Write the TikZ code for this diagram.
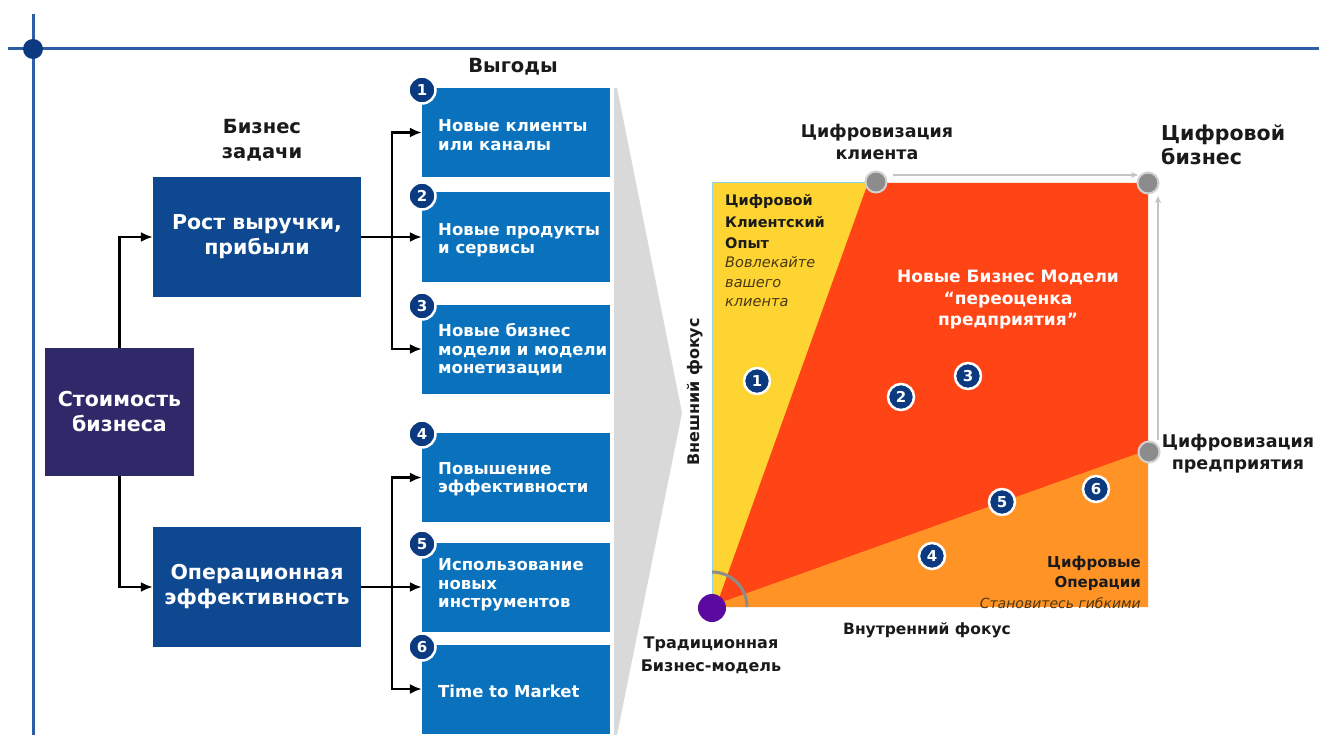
\documentclass[tikz,border=0pt]{standalone}
\usepackage{fontspec}
\setmainfont{DejaVu Sans}
\usetikzlibrary{arrows.meta}
\definecolor{dblue}{HTML}{0D4891}
\definecolor{purp}{HTML}{2F2969}
\definecolor{mblue}{HTML}{0A72BD}
\definecolor{nblue}{HTML}{0B3A80}
\definecolor{lineblue}{HTML}{2E5DA8}
\definecolor{cyel}{HTML}{FDD431}
\definecolor{cred}{HTML}{FF4516}
\definecolor{corg}{HTML}{FF9326}
\definecolor{wedgegray}{HTML}{D9D9D9}
\definecolor{gdot}{HTML}{8C8C8C}
\definecolor{gring}{HTML}{D2D2D2}
\definecolor{lgray}{HTML}{C4C4C4}
\definecolor{violetdot}{HTML}{5A0A9E}
\definecolor{txtdark}{HTML}{1A1A1A}
\definecolor{italbrown}{HTML}{4A3812}
\definecolor{edgecyan}{HTML}{8FD3E6}
\begin{document}
\begin{tikzpicture}[x=1pt,y=-1pt,
  bigbox/.style={rectangle, fill=dblue, text=white, minimum width=208pt, minimum height=120pt, inner sep=0pt, align=center, font=\fontsize{20.5}{25}\selectfont\bfseries},
  valbox/.style={bigbox, fill=purp, minimum width=149pt, minimum height=128pt},
  benbox/.style={rectangle, fill=mblue, minimum width=188pt, minimum height=89pt, inner sep=0pt},
  bentext/.style={anchor=west, inner sep=0pt, text=white, align=left, font=\fontsize{16.5}{18.5}\selectfont\bfseries},
  numc/.style={circle, fill=nblue, draw=white, line width=2.5pt, minimum size=27pt, inner sep=0pt, text=white, font=\fontsize{15}{15}\selectfont\bfseries},
  conn/.style={draw=black, line width=2.2pt, line join=miter, -{Latex[length=12pt,width=10pt]}},
  plain/.style={draw=black, line width=2.2pt},
  heading/.style={align=center, text=txtdark, inner sep=0pt, font=\fontsize{19.5}{25}\selectfont\bfseries},
  clabel/.style={align=center, text=txtdark, inner sep=0pt, font=\fontsize{17.5}{22.5}\selectfont\bfseries},
  gdotst/.style={circle, fill=gdot, draw=gring, line width=2pt, minimum size=21pt, inner sep=0pt},
  garrow/.style={draw=lgray, line width=1.5pt, -{Stealth[length=7pt,width=6pt]}},
  ctext/.style={inner sep=0pt, text=txtdark, font=\fontsize{14.5}{21.5}\selectfont\bfseries},
  citext/.style={inner sep=0pt, text=italbrown, font=\fontsize{14.5}{19.5}\selectfont\itshape},
]
\useasboundingbox (0,0) rectangle (1319,735);
\fill[white] (0,0) rectangle (1319,735);

% frame lines
\draw[lineblue, line width=3pt] (8,49) -- (1319,49);
\draw[lineblue, line width=3pt] (33,14) -- (33,735);
\node[circle, fill=nblue, minimum size=20pt, inner sep=0pt] (corner) at (33,49) {};

% headings
\node[heading] (hz) at (262,140) {Бизнес\\задачи};
\node[heading] (hv) at (513,67) {Выгоды};

% left boxes
\node[bigbox] (rev) at (257,237) {Рост выручки,\\прибыли};
\node[valbox] (val) at (119.5,412) {Стоимость\\бизнеса};
\node[bigbox] (ops) at (257,587) {Операционная\\эффективность};

% benefit boxes
\node[benbox] (b1) at (516,132.5) {};
\node[benbox] (b2) at (516,237) {};
\node[benbox] (b3) at (516,349) {};
\node[benbox] (b4) at (516,477.5) {};
\node[benbox] (b5) at (516,587) {};
\node[benbox] (b6) at (516,689) {};

\node[bentext] (t1) at (438,135) {Новые клиенты\\или каналы};
\node[bentext] (t2) at (438,240) {Новые продукты\\и сервисы};
\node[bentext] (t3) at (438,350) {Новые бизнес\\модели и модели\\монетизации};
\node[bentext] (t4) at (438,479) {Повышение\\эффективности};
\node[bentext] (t5) at (438,585) {Использование\\новых\\инструментов};
\node[bentext] (t6) at (438,691) {Time to Market};

\node[numc] (n1) at (422,90) {1};
\node[numc] (n2) at (422,196) {2};
\node[numc] (n3) at (422,306) {3};
\node[numc] (n4) at (422,434) {4};
\node[numc] (n5) at (422,544) {5};
\node[numc] (n6) at (422,647) {6};

% connectors
\draw[conn] (val.north) |- (rev.west);
\draw[conn] (val.south) |- (ops.west);
\coordinate (j1) at (392,237);
\coordinate (j2) at (392,587);
\draw[plain] (rev.east) -- (j1);
\draw[conn] (j1) |- (b1.west);
\draw[conn] (j1) -- (b2.west);
\draw[conn] (j1) |- (b3.west);
\draw[plain] (ops.east) -- (j2);
\draw[conn] (j2) |- (b4.west);
\draw[conn] (j2) -- (b5.west);
\draw[conn] (j2) |- (b6.west);

% gray wedge
\fill[wedgegray] (614,88) -- (617,88) -- (682,413) -- (617,735) -- (614,735) -- cycle;

% chart
\coordinate (TL) at (712,183);
\coordinate (TR) at (1148,183);
\coordinate (BR) at (1148,607);
\coordinate (BL) at (712,607);
\coordinate (CK) at (868,183);
\coordinate (CE) at (1148,450);
\coordinate (TIP) at (717,604);
\fill[cyel] (TL) rectangle (BR);
\fill[cred] (CK) -- (TR) -- (CE) -- (TIP) -- cycle;
\fill[corg] (TIP) -- (CE) -- (BR) -- (BL) -- cycle;
\draw[edgecyan, line width=1pt] (BL) -- (TL) -- (CK);
\draw[gdot, line width=3pt] (712,572) .. controls (731.3,572) and (747,587.7) .. (747,607);

\node[gdotst] (gk) at (876,182) {};
\node[gdotst] (gb) at (1148,183) {};
\node[gdotst] (ge) at (1149,452) {};
\node[circle, fill=violetdot, minimum size=28pt, inner sep=0pt] (trad) at (712,608) {};

\coordinate (a1s) at (893,175);
\coordinate (a1e) at (1138,175);
\coordinate (a2s) at (1158,440);
\coordinate (a2e) at (1158,196);
\draw[garrow] (a1s) -- (a1e);
\draw[garrow] (a2s) -- (a2e);

% chart labels
\node[clabel] (lck) at (877,142) {Цифровизация\\клиента};
\node[clabel, anchor=west, align=left, font=\fontsize{20.5}{24}\selectfont\bfseries] (ldb) at (1161,145) {Цифровой\\бизнес};
\node[clabel, font=\fontsize{17.5}{22}\selectfont\bfseries] (lce) at (1238,454) {Цифровизация\\предприятия};
\node[clabel, font=\fontsize{16}{23}\selectfont\bfseries] (ltr) at (711,655) {Традиционная\\Бизнес-модель};
\node[clabel, font=\fontsize{15.5}{18}\selectfont\bfseries] (lin) at (927,630) {Внутренний фокус};
\node[clabel, rotate=90, font=\fontsize{16}{18}\selectfont\bfseries] (lex) at (695,392) {Внешний фокус};

\node[ctext, anchor=west, align=left] (dce) at (725,222) {Цифровой\\Клиентский\\Опыт};
\node[citext, anchor=west, align=left] (dcei) at (725,282) {Вовлекайте\\вашего\\клиента};
\node[inner sep=0pt, align=center, text=white, font=\fontsize{17}{21.5}\selectfont\bfseries] (nbm) at (1008,300) {Новые Бизнес Модели\\“переоценка\\предприятия”};
\node[ctext, anchor=east, align=right, font=\fontsize{15}{20}\selectfont\bfseries] (dop) at (1141,573) {Цифровые\\Операции};
\node[citext, anchor=east, font=\fontsize{14}{18}\selectfont\itshape] (dopi) at (1141,603) {Становитесь гибкими};

% numbered points in chart
\node[numc, minimum size=26pt] (p1) at (757,381) {1};
\node[numc, minimum size=26pt] (p2) at (901,397) {2};
\node[numc, minimum size=26pt] (p3) at (968,376) {3};
\node[numc, minimum size=26pt] (p4) at (932,556) {4};
\node[numc, minimum size=26pt] (p5) at (1002,502) {5};
\node[numc, minimum size=26pt] (p6) at (1096,489) {6};
\end{tikzpicture}
\end{document}
